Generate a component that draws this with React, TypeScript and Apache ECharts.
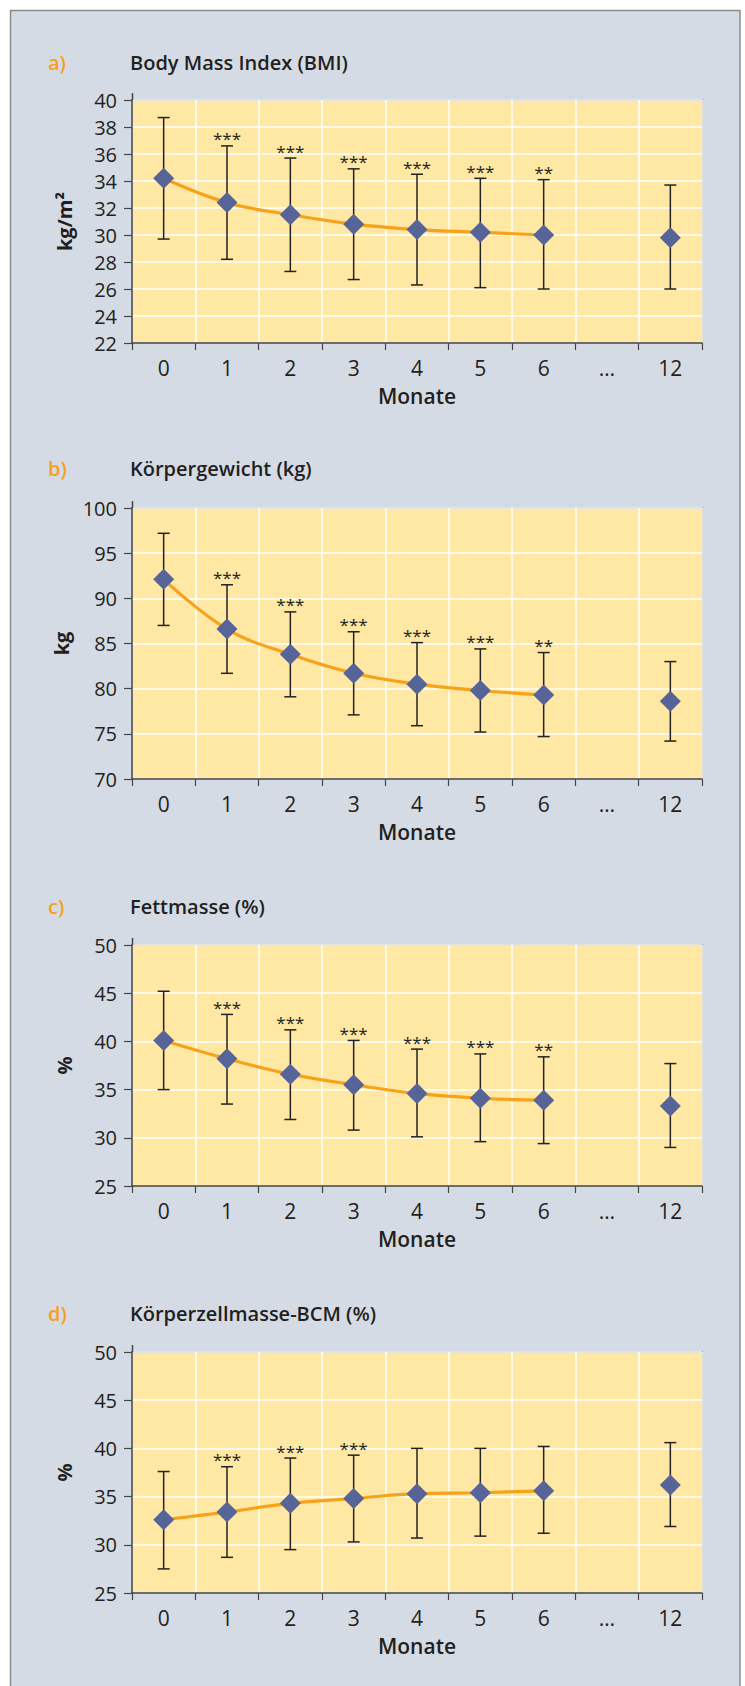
import React, { useEffect, useRef } from 'react';
import * as echarts from 'echarts';

const months = ['0', '1', '2', '3', '4', '5', '6', '…', '12'];

const bmiMean = [34.2, 32.4, 31.5, 30.8, 30.4, 30.2, 30.0, null, 29.8];
const bmiLow = [29.7, 28.2, 27.3, 26.7, 26.3, 26.1, 26.0, null, 26.0];
const bmiHigh = [38.7, 36.6, 35.7, 34.9, 34.5, 34.2, 34.1, null, 33.7];
const bmiSig = ['', '***', '***', '***', '***', '***', '**', '', ''];

const kgMean = [92.1, 86.6, 83.8, 81.7, 80.5, 79.8, 79.3, null, 78.6];
const kgLow = [87.0, 81.7, 79.1, 77.1, 75.9, 75.2, 74.7, null, 74.2];
const kgHigh = [97.2, 91.5, 88.5, 86.3, 85.1, 84.4, 84.0, null, 83.0];
const kgSig = ['', '***', '***', '***', '***', '***', '**', '', ''];

const fatMean = [40.1, 38.2, 36.6, 35.5, 34.6, 34.1, 33.9, null, 33.3];
const fatLow = [35.0, 33.5, 31.9, 30.8, 30.1, 29.6, 29.4, null, 29.0];
const fatHigh = [45.2, 42.8, 41.2, 40.1, 39.2, 38.7, 38.4, null, 37.7];
const fatSig = ['', '***', '***', '***', '***', '***', '**', '', ''];

const bcmMean = [32.6, 33.4, 34.3, 34.8, 35.3, 35.4, 35.6, null, 36.2];
const bcmLow = [27.5, 28.7, 29.5, 30.3, 30.7, 30.9, 31.2, null, 31.9];
const bcmHigh = [37.6, 38.1, 39.0, 39.3, 40.0, 40.0, 40.2, null, 40.6];
const bcmSig = ['', '***', '***', '***', '', '', '', '', ''];

const panelLetters = ['a)', 'b)', 'c)', 'd)'];
const panelTitles = ['Body Mass Index (BMI)', 'Körpergewicht (kg)', 'Fettmasse (%)', 'Körperzellmasse-BCM (%)'];
const yNames = ['kg/m²', 'kg', '%', '%'];
const yMins = [22, 70, 25, 25];
const yMaxs = [40, 100, 50, 50];
const yIntervals = [2, 5, 5, 5];
const xName = 'Monate';

const panelData = [
  { mean: bmiMean, low: bmiLow, high: bmiHigh, sig: bmiSig },
  { mean: kgMean, low: kgLow, high: kgHigh, sig: kgSig },
  { mean: fatMean, low: fatLow, high: fatHigh, sig: fatSig },
  { mean: bcmMean, low: bcmLow, high: bcmHigh, sig: bcmSig },
];

// layout (pixels)
const gridLeft = 132;
const gridWidth = 570;
const gridTops = [100, 508, 945, 1352];
const gridHeights = [243, 271, 241, 241];
const titleYs = [62, 468, 906, 1313];

const TEXT = '#231F20';
const AXIS = '#454545';
const FONT = '"Open Sans", "Noto Sans", sans-serif';

export default function App() {
  const ref = useRef<HTMLDivElement>(null);

  useEffect(() => {
    if (!ref.current) return;
    const chart = echarts.init(ref.current, undefined, { renderer: 'svg' });

    const grids: any[] = [];
    const xAxes: any[] = [];
    const yAxes: any[] = [];
    const series: any[] = [];
    const graphics: any[] = [
      {
        type: 'rect',
        z: -100,
        shape: { x: 10.5, y: 10.5, width: 729.5, height: 1720 },
        style: { fill: '#D5DBE5', stroke: '#8C8C8C', lineWidth: 1.5 },
      },
    ];

    panelData.forEach((pd, i) => {
      grids.push({
        left: gridLeft,
        top: gridTops[i],
        width: gridWidth,
        height: gridHeights[i],
        show: true,
        backgroundColor: '#FFE8A3',
        borderColor: '#707070',
        borderWidth: 1.5,
      });
      xAxes.push({
        type: 'category',
        gridIndex: i,
        data: months,
        boundaryGap: true,
        axisLine: { show: true, lineStyle: { color: AXIS, width: 1.5 } },
        axisTick: { show: true, interval: 0, length: 7, lineStyle: { color: AXIS, width: 1.2 } },
        axisLabel: { interval: 0, margin: 14, fontSize: 21, fontFamily: FONT, color: TEXT },
        splitLine: { show: true, interval: 0, lineStyle: { color: '#FFFFFF', width: 1.5 } },
        name: xName,
        nameLocation: 'middle',
        nameGap: 42,
        nameTextStyle: { fontSize: 21, fontWeight: 600, fontFamily: FONT, color: TEXT },
      });
      yAxes.push({
        type: 'value',
        gridIndex: i,
        min: yMins[i],
        max: yMaxs[i],
        interval: yIntervals[i],
        axisLine: { show: true, lineStyle: { color: AXIS, width: 1.5 } },
        axisTick: { show: true, length: 8, lineStyle: { color: AXIS, width: 1.2 } },
        axisLabel: { margin: 15, fontSize: 20, fontFamily: FONT, color: TEXT },
        splitLine: { show: true, lineStyle: { color: '#FFFFFF', width: 1.5 } },
        name: yNames[i],
        nameLocation: 'middle',
        nameGap: 58,
        nameTextStyle: { fontSize: 20, fontWeight: 'bold', fontFamily: FONT, color: TEXT },
      });

      const idx: number[] = [];
      const errData: any[] = [];
      pd.low.forEach((lo, k) => {
        if (lo != null && pd.high[k] != null) {
          idx.push(k);
          errData.push([k, lo, pd.high[k]]);
        }
      });
      const sigs = pd.sig;

      series.push({
        type: 'custom',
        xAxisIndex: i,
        yAxisIndex: i,
        z: 2,
        data: errData,
        renderItem: (params: any, api: any) => {
          const x = api.value(0);
          const lo = api.value(1);
          const hi = api.value(2);
          const pLo = api.coord([x, lo]);
          const pHi = api.coord([x, hi]);
          const cap = 6;
          const style = { stroke: '#222222', lineWidth: 1.5 };
          const children: any[] = [
            { type: 'line', shape: { x1: pLo[0], y1: pLo[1], x2: pHi[0], y2: pHi[1] }, style },
            { type: 'line', shape: { x1: pLo[0] - cap, y1: pLo[1], x2: pLo[0] + cap, y2: pLo[1] }, style },
            { type: 'line', shape: { x1: pHi[0] - cap, y1: pHi[1], x2: pHi[0] + cap, y2: pHi[1] }, style },
          ];
          const s = sigs[idx[params.dataIndex]];
          if (s) {
            children.push({
              type: 'text',
              style: {
                text: s,
                x: pHi[0],
                y: pHi[1] + 1.5,
                align: 'center',
                verticalAlign: 'bottom',
                font: '17px "Open Sans", sans-serif',
                fill: TEXT,
              },
            });
          }
          return { type: 'group', children };
        },
      });

      series.push({
        type: 'line',
        xAxisIndex: i,
        yAxisIndex: i,
        z: 3,
        data: pd.mean,
        smooth: 0.4,
        connectNulls: false,
        symbol: 'diamond',
        symbolSize: 21,
        showAllSymbol: true,
        itemStyle: { color: '#566498' },
        lineStyle: { color: '#F7A21B', width: 3.2 },
      });

      // y axis extends a little above the plot
      graphics.push({
        type: 'line',
        z: 10,
        shape: { x1: gridLeft + 0.5, y1: gridTops[i] - 7, x2: gridLeft + 0.5, y2: gridTops[i] },
        style: { stroke: AXIS, lineWidth: 1.5 },
      });
      graphics.push({
        type: 'text',
        z: 10,
        style: {
          text: panelLetters[i],
          x: 48,
          y: titleYs[i],
          align: 'left',
          verticalAlign: 'middle',
          font: '600 20px "Open Sans", sans-serif',
          fill: '#F5A01E',
        },
      });
      graphics.push({
        type: 'text',
        z: 10,
        style: {
          text: panelTitles[i],
          x: 130,
          y: titleYs[i],
          align: 'left',
          verticalAlign: 'middle',
          font: '600 20px "Open Sans", sans-serif',
          fill: TEXT,
        },
      });
    });

    chart.setOption({
      animation: false,
      backgroundColor: '#FFFFFF',
      grid: grids,
      xAxis: xAxes,
      yAxis: yAxes,
      series,
      graphic: graphics,
    });

    return () => chart.dispose();
  }, []);

  return (
    <div
      ref={ref}
      style={{ position: 'absolute', left: 0, top: 0, width: 745, height: 1686 }}
    />
  );
}
